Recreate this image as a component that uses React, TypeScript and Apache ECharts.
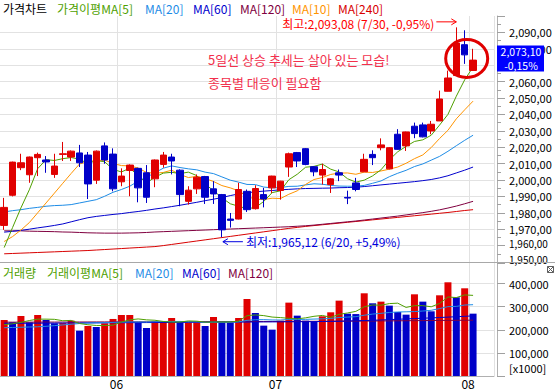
import React, { useEffect, useRef } from 'react';
import * as echarts from 'echarts';

const dates = [
  '05/13','05/14','05/15','05/16','05/19','05/20','05/21','05/22','05/23','05/26','05/27','05/28','05/29','05/30',
  '06/02','06/03','06/05','06/09','06/10','06/11','06/12','06/13','06/16','06/17','06/18','06/19','06/20','06/23','06/24','06/25','06/26','06/27','06/30',
  '07/01','07/02','07/03','07/04','07/07','07/08','07/09','07/10','07/11','07/14','07/15','07/16','07/17','07/18','07/21','07/22','07/23','07/24','07/25','07/28','07/29','07/30','07/31',
  '08/01'
];
const monthStarts = [14, 33, 56];

const opens = [1972.3,1990.7,2007.5,2003.2,2013.6,2012.2,2003.4,2015.6,2014.0,2016.5,2015.2,1999.9,2020.8,2015.8,1998.9,2005.8,2007.1,2004.4,2000.7,2009.5,2014.0,2006.0,1987.0,1994.6,2002.1,1994.6,1991.1,1976.2,1976.2,1993.1,1982.5,1991.1,1995.2,1993.6,2007.9,2016.7,2019.1,2008.1,2003.0,1997.2,2004.4,1989.4,1998.2,2005.0,2015.6,2019.7,2006.8,2027.9,2020.8,2032.8,2033.6,2029.9,2036.0,2054.1,2063.7,2082.5,2066.8];
const closes = [1983.3,2010.9,2010.5,2014.0,2015.6,2011.0,2008.5,2016.0,2017.6,2010.5,1997.6,2017.6,2012.2,1994.6,2002.4,2009.1,1995.2,1989.5,2012.2,2015.2,2011.6,1991.1,1993.8,2001.7,1989.5,1991.5,1969.6,1975.4,1994.2,1981.9,1994.8,1988.4,2002.4,1999.3,2016.0,2011.6,2009.5,2005.0,2006.4,2000.7,2003.0,1989.0,1994.2,2012.6,2013.6,2021.4,2019.7,2018.7,2029.3,2028.3,2026.3,2034.0,2049.4,2062.2,2083.5,2076.3,2073.1];
const lows = [1969.6,1990.0,2006.0,1998.3,2002.4,2004.4,2001.3,2011.6,2011.6,2007.9,1988.4,1997.6,2009.9,1993.1,1996.2,1990.1,1986.4,1986.0,1995.6,2007.5,2003.4,1984.0,1985.0,1991.5,1985.4,1985.4,1965.12,1971.0,1976.0,1980.5,1982.0,1983.3,1992.1,1988.0,2001.9,2007.9,2009.0,2002.3,1997.2,1992.1,1999.3,1985.3,1993.1,2005.0,2009.1,2018.1,2006.5,2018.5,2017.7,2025.5,2026.0,2027.9,2036.0,2054.0,2063.5,2070.8,2066.5];
const highs = [1989.1,2011.2,2016.0,2014.3,2016.7,2014.6,2016.0,2023.2,2018.0,2021.4,2017.1,2018.0,2022.9,2019.3,2007.1,2009.5,2007.5,2009.1,2012.5,2017.1,2016.0,2006.5,1996.2,2003.4,2002.5,1999.3,1991.5,1979.9,1998.3,1994.2,1996.8,1995.2,2002.6,1999.5,2016.7,2017.1,2019.5,2008.5,2009.9,2001.0,2006.4,1993.5,2001.3,2016.0,2018.1,2025.4,2020.0,2031.0,2029.5,2035.0,2035.0,2036.0,2054.5,2066.7,2093.08,2091.3,2080.0];

const ma5 = [1958.8,1971.0,1983.0,1994.0,2006.9,2012.4,2011.9,2013.0,2013.7,2012.7,2010.0,2011.9,2011.1,2006.5,2004.9,2007.2,2002.7,1998.2,2001.7,2004.2,2004.7,2003.9,2004.8,2002.7,1997.5,1993.5,1989.2,1985.5,1984.0,1982.5,1983.2,1986.9,1992.3,1993.4,2000.2,2003.5,2007.8,2008.3,2009.7,2006.6,2004.9,2000.8,1998.7,1999.9,2002.5,2006.2,2012.3,2017.2,2020.5,2023.5,2024.5,2027.3,2033.5,2040.0,2051.1,2061.1,2068.9];
const ma10 = [1962.5,1965.5,1969.5,1974.0,1980.0,1986.0,1992.0,1998.0,2004.0,2009.8,2011.2,2011.9,2012.1,2010.1,2008.8,2008.6,2007.3,2004.6,2004.1,2004.6,2006.0,2003.3,2001.5,2002.2,2000.9,1999.1,1996.6,1995.2,1993.4,1990.0,1988.3,1988.1,1988.9,1988.7,1991.3,1993.4,1997.3,2000.3,2001.5,2003.4,2004.2,2004.3,2003.5,2004.8,2004.6,2005.5,2006.6,2007.9,2010.2,2013.0,2015.3,2019.8,2025.3,2030.3,2037.3,2042.8,2048.1];
const ma20 = [1980.5,1981.3,1981.9,1982.7,1983.3,1984.0,1984.4,1984.6,1985.0,1986.0,1987.0,1988.0,1990.1,1992.5,1994.2,1996.2,1999.3,2001.7,2004.4,2007.2,2008.6,2007.6,2006.8,2006.2,2004.8,2003.9,2001.9,1999.9,1998.7,1997.3,1997.2,1995.7,1995.2,1995.4,1996.1,1996.2,1997.0,1997.7,1997.4,1996.7,1996.3,1996.2,1996.2,1996.7,1998.0,1999.4,2002.0,2004.1,2005.9,2008.2,2009.8,2012.1,2014.4,2017.5,2020.9,2024.2,2027.3];
const ma60 = [1968.2,1968.7,1969.3,1970.0,1970.8,1971.5,1972.3,1973.2,1974.5,1975.8,1977.0,1977.8,1978.4,1979.0,1979.5,1980.2,1980.8,1981.5,1982.3,1983.0,1983.8,1984.6,1985.5,1986.4,1987.4,1988.3,1989.3,1990.5,1991.5,1992.2,1992.8,1993.2,1993.6,1994.0,1994.3,1994.6,1994.8,1994.9,1995.0,1995.1,1995.3,1995.4,1995.6,1996.0,1996.5,1997.0,1997.5,1998.0,1998.5,1999.0,1999.6,2000.3,2001.3,2002.6,2004.3,2006.0,2007.9];
const ma120 = [1969.0,1969.0,1969.0,1968.8,1968.7,1968.6,1968.5,1968.3,1968.2,1968.0,1967.8,1967.7,1967.6,1967.6,1967.6,1967.7,1967.8,1968.0,1968.3,1968.5,1968.7,1968.9,1969.1,1969.3,1969.5,1969.7,1969.9,1970.1,1970.3,1970.5,1970.7,1970.9,1971.1,1971.3,1971.5,1971.8,1972.1,1972.5,1973.0,1973.5,1974.0,1974.5,1975.0,1975.6,1976.2,1976.8,1977.4,1978.0,1978.7,1979.4,1980.1,1980.9,1981.8,1982.9,1984.1,1985.5,1987.0];
const ma240 = [1955.0,1955.2,1955.4,1955.6,1955.8,1956.0,1956.2,1956.4,1956.6,1956.8,1957.0,1957.3,1957.6,1957.9,1958.2,1958.5,1958.8,1959.1,1959.4,1960.0,1960.7,1961.4,1962.1,1962.8,1963.5,1964.2,1964.9,1965.6,1966.3,1967.0,1967.7,1968.4,1969.1,1969.8,1970.5,1971.1,1971.7,1972.2,1972.7,1973.2,1973.7,1974.2,1974.7,1975.2,1975.7,1976.2,1976.7,1977.2,1977.7,1978.2,1978.7,1979.2,1979.7,1980.2,1980.8,1981.4,1981.9];

const volume = [242400,232300,259700,232300,264000,242400,228000,229000,239500,196200,216500,212100,228000,246800,264000,264000,232300,207800,238000,238000,251000,232300,232300,232300,216500,255400,232300,231500,251000,333300,272700,217900,200600,239500,317500,261200,239500,233800,258300,275600,326100,269800,268000,357900,314600,321800,304500,277000,265500,353500,321800,279900,349200,405500,340500,379500,269800];
const vma5 = [222000,226000,232000,240000,246100,246100,245300,239100,240600,227000,221800,218700,218500,219900,233500,243000,247000,243000,241200,236000,233400,233400,238300,237200,232900,233800,233800,233800,237500,260900,264300,261400,255100,252800,249600,247300,251700,258300,262100,253700,266700,272700,279600,299500,307300,306400,313400,315200,296700,304500,304500,299500,314000,342000,339400,350900,348900];
const vma20 = [209000,210000,211000,212000,213000,215000,218000,221000,224000,227000,229000,230000,231000,232000,233000,234000,234000,234000,235000,235700,236100,236100,234700,234700,232400,233000,233200,233400,234000,240800,243600,243900,242500,242200,244900,244700,245100,246400,247400,249300,253000,254900,256700,263000,267900,271200,274800,277000,277800,278800,281200,284300,291800,300100,301200,307100,308600];
const vma60 = [228000,228000,228200,228400,228600,228800,229000,229200,229400,229600,229800,230000,230200,230400,230600,230800,231000,231200,231400,231600,231800,232000,232200,232400,232600,232800,233000,233200,233400,233600,233800,234000,234200,234400,234600,234800,235000,235400,235800,236400,237000,238000,239000,240000,241000,242500,244000,245500,247000,248500,250000,251500,253000,254800,256600,258300,260000];
const vma120 = [233000,233000,233000,233100,233200,233300,233400,233500,233600,233700,233800,233900,234000,234100,234200,234300,234400,234500,234600,234700,234800,234900,235000,235100,235200,235300,235400,235500,235600,235700,235800,235900,236000,236100,236200,236300,236400,236600,236800,237000,237200,237400,237600,237800,238000,238300,238600,238900,239200,239500,239800,240100,240400,240700,241000,241300,241600];

const RED = '#e00000';
const BLUE = '#0000c8';
const C_MA5 = '#4f9f00';
const C_MA20 = '#1e8ce6';
const C_MA60 = '#0000cd';
const C_MA120 = '#800040';
const C_MA10 = '#ff9400';
const C_MA240 = '#d80000';
const FONT = '"Noto Sans CJK KR", "Noto Sans", sans-serif';
const GRID_C = '#e2e2e2';
const AXIS_C = '#b0b0b0';

function fmtPrice(v: number): string {
  const s = v.toFixed(2);
  const [ip, dp] = s.split('.');
  const withSep = ip.replace(/\B(?=(\d{3})+(?!\d))/g, ',');
  return withSep + ',' + dp;
}

export default function App() {
  const ref = useRef<HTMLDivElement>(null);
  useEffect(() => {
    document.body.style.margin = '0';
    const chart = echarts.init(ref.current!, undefined, { renderer: 'svg' });
    const cats = dates.concat(['', '']);
    const candleData = opens.map((o, i) => [o, closes[i], lows[i], highs[i]]);
    const volData = volume.map((v, i) => ({
      value: v,
      itemStyle: { color: i === 0 || v >= volume[i - 1] ? RED : BLUE },
    }));
    const line = (name: string, data: number[], color: string, x: number, y: number) => ({
      name, type: 'line', data, xAxisIndex: x, yAxisIndex: y, symbol: 'none', smooth: false,
      lineStyle: { width: 1, color }, itemStyle: { color }, silent: true, z: 3,
    });
    const splitX = {
      show: true,
      interval: (idx: number) => monthStarts.indexOf(idx) >= 0,
      lineStyle: { color: GRID_C, width: 1 },
    };
    const last = closes.length - 1;
    // 2,070 is fully hidden behind the current-price box in the reference;
    // the two lowest labels are squeezed together inside the panel, drawn below.
    const specialLabels = [2070, 1960, 1950];
    const option: any = {
      animation: false,
      backgroundColor: '#ffffff',
      textStyle: { fontFamily: FONT },
      grid: [
        { left: 0, top: 16, width: 494, height: 246 },
        { left: 0, top: 263, width: 494, height: 113 },
      ],
      xAxis: [
        {
          type: 'category', gridIndex: 0, data: cats, boundaryGap: true,
          axisLabel: { show: false }, axisTick: { show: false },
          axisLine: { show: true, lineStyle: { color: AXIS_C } },
          splitLine: splitX,
        },
        {
          type: 'category', gridIndex: 1, data: cats, boundaryGap: true,
          axisTick: { show: false },
          axisLine: { show: true, lineStyle: { color: AXIS_C } },
          splitLine: splitX,
          axisLabel: {
            show: true, interval: (idx: number) => monthStarts.indexOf(idx) >= 0,
            formatter: (v: string) => v.slice(0, 2),
            fontSize: 12, color: '#000', margin: 1, lineHeight: 12, padding: [0, 10, 0, 0],
            fontFamily: FONT,
          },
        },
      ],
      yAxis: [
        {
          type: 'value', gridIndex: 0, position: 'right', offset: 3,
          min: 1950, max: 2100, interval: 10,
          axisLine: { show: true, lineStyle: { color: AXIS_C } },
          axisTick: { show: true, length: 8, lineStyle: { color: '#a0a0a0' } },
          minorTick: { show: true, splitNumber: 2, length: 4, lineStyle: { color: '#a0a0a0' } },
          splitLine: { show: true, showMaxLine: false, showMinLine: false, lineStyle: { color: GRID_C } },
          axisLabel: {
            margin: 12, fontSize: 11, color: '#000', fontFamily: FONT,
            showMinLabel: false, showMaxLabel: false,
            formatter: (v: number) => (v >= 2100 || specialLabels.indexOf(v) >= 0 ? '' : fmtPrice(v)),
          },
        },
        {
          type: 'value', gridIndex: 1, position: 'right', offset: 3,
          min: 0, max: 489000, interval: 100000,
          axisLine: { show: true, lineStyle: { color: AXIS_C } },
          axisTick: { show: true, length: 8, lineStyle: { color: '#a0a0a0' } },
          splitLine: { show: true, showMaxLine: false, showMinLine: false, lineStyle: { color: GRID_C } },
          axisLabel: {
            margin: 12, fontSize: 11, color: '#000', fontFamily: FONT,
            formatter: (v: number) => (v > 0 && v <= 400000 && v % 100000 === 0 ? v.toLocaleString('en-US') : ''),
          },
        },
      ],
      series: [
        line('MA240', ma240, C_MA240, 0, 0),
        line('MA120', ma120, C_MA120, 0, 0),
        line('MA60', ma60, C_MA60, 0, 0),
        line('MA20', ma20, C_MA20, 0, 0),
        line('MA10', ma10, C_MA10, 0, 0),
        {
          name: '가격', type: 'candlestick', xAxisIndex: 0, yAxisIndex: 0, data: candleData,
          barWidth: 7, z: 4,
          itemStyle: { color: RED, color0: BLUE, borderColor: RED, borderColor0: BLUE, borderWidth: 1 },
        },
        line('MA5', ma5, C_MA5, 0, 0),
        {
          name: '거래량', type: 'bar', xAxisIndex: 1, yAxisIndex: 1, data: volData, barWidth: 7, z: 2,
        },
        line('VMA120', vma120, C_MA120, 1, 1),
        line('VMA60', vma60, C_MA60, 1, 1),
        line('VMA20', vma20, C_MA20, 1, 1),
        line('VMA5', vma5, C_MA5, 1, 1),
      ],
    };
    chart.setOption(option);

    const px = (i: number, v: number) => chart.convertToPixel({ xAxisIndex: 0, yAxisIndex: 0 }, [i, v]) as number[];
    const hiIdx = highs.indexOf(Math.max(...highs));
    const loIdx = lows.indexOf(Math.min(...lows));
    const hp = px(hiIdx, highs[hiIdx]);
    const lp = px(loIdx, lows[loIdx]);
    const cp = px(last, closes[last]);
    const circ = px(last - 1, closes[last] + 1);
    const y1960 = px(0, 1960)[1];
    const y1950 = px(0, 1950)[1];
    const prevClose = closes[last - 1];
    const chg = ((closes[last] - prevClose) / prevClose) * 100;
    const fromHigh = ((closes[last] - highs[hiIdx]) / highs[hiIdx]) * 100;
    const fromLow = ((closes[last] - lows[loIdx]) / lows[loIdx]) * 100;
    const pct = (v: number) => (v >= 0 ? '+' : '-') + Math.abs(v).toFixed(2).replace('.', ',') + '%';

    const t = (x: number, y: number, text: string, fill: string, size = 12, align = 'left') => ({
      type: 'text', x, y, silent: true, z: 100,
      style: { text, fill, font: `${size}px ${FONT}`, textAlign: align, textVerticalAlign: 'middle' },
    });
    const ln = (x1: number, y1: number, x2: number, y2: number, stroke: string, w = 1) => ({
      type: 'line', silent: true, z: 100, shape: { x1, y1, x2, y2 }, style: { stroke, lineWidth: w },
    });
    const arrowHead = (x: number, y: number, dir: number, stroke: string) => ({
      type: 'polyline', silent: true, z: 100,
      shape: { points: [[x - dir * 5, y - 3], [x, y], [x - dir * 5, y + 3]] },
      style: { stroke, lineWidth: 1, fill: 'none' },
    });

    const hiY = hp[1] - 5.5;
    const loY = lp[1] + 4.5;
    const graphic: any[] = [
      // titles
      t(3, 8, '가격차트', '#000'),
      t(57, 8, '가격이평MA[5]', C_MA5),
      t(145, 8, 'MA[20]', C_MA20),
      t(193, 8, 'MA[60]', C_MA60),
      t(240, 8, 'MA[120]', C_MA120),
      t(292, 8, 'MA[10]', C_MA10),
      t(338, 8, 'MA[240]', C_MA240),
      t(3, 272, '거래량', C_MA5),
      t(47, 272, '거래이평MA[5]', C_MA5),
      t(135, 272, 'MA[20]', C_MA20),
      t(182, 272, 'MA[60]', C_MA60),
      t(228, 272, 'MA[120]', C_MA120),
      // lowest two tick labels, squeezed inside the panel as in the reference
      t(509, y1960 - 2, fmtPrice(1960), '#000', 10),
      t(509, y1950 - 3, fmtPrice(1950), '#000', 10),
      // high annotation
      t(hp[0] - 22, hiY + 1.5, `최고:${fmtPrice(highs[hiIdx])} (${dates[hiIdx].replace(/^0/, '')}, ${pct(fromHigh)})`, '#ff0000', 12, 'right'),
      ln(hp[0] - 20, hiY, hp[0], hiY, '#ff0000'),
      arrowHead(hp[0], hiY, 1, '#ff0000'),
      // low annotation
      ln(lp[0] + 1, loY, lp[0] + 21, loY, '#0000e0'),
      arrowHead(lp[0] + 1, loY, -1, '#0000e0'),
      t(lp[0] + 24, loY, `최저:${fmtPrice(lows[loIdx])} (${dates[loIdx].replace(/^0/, '')}, ${pct(fromLow)})`, '#0000e0', 12, 'left'),
      // comments
      t(208, 59, '5일선 상승 추세는 살아 있는 모습!', '#f2304c', 13),
      t(208, 82, '종목별 대응이 필요함', '#f2304c', 13),
      // circle
      {
        type: 'ellipse', silent: true, z: 101,
        shape: { cx: circ[0] + 2, cy: circ[1], rx: 21, ry: 19 },
        style: { stroke: '#e00000', lineWidth: 3, fill: 'none' },
      },
      // current price box
      { type: 'rect', silent: true, z: 100, shape: { x: 497, y: cp[1] - 14.5, width: 47, height: 26 }, style: { fill: '#0000ff' } },
      t(521, cp[1] - 8.5, fmtPrice(closes[last]), '#ffffff', 10.5, 'center'),
      t(521, cp[1] + 5, pct(chg), '#ffffff', 10.5, 'center'),
      // panel separator
      ln(0, 262.5, 555, 262.5, '#a8a8a8'),
      // [x1000]
      t(509, 368, '[x1000]', '#000', 11),
      // close box
      { type: 'rect', silent: true, z: 100, shape: { x: 547.5, y: 266.5, width: 6, height: 6 }, style: { stroke: '#606060', fill: '#fff', lineWidth: 1 } },
      ln(547.5, 266.5, 553.5, 272.5, '#606060'),
      ln(553.5, 266.5, 547.5, 272.5, '#606060'),
    ];
    chart.setOption({ graphic });
    return () => chart.dispose();
  }, []);
  return (
    <div
      ref={ref}
      style={{ position: 'absolute', left: 0, top: 0, width: 555, height: 392, background: '#fff' }}
    />
  );
}
